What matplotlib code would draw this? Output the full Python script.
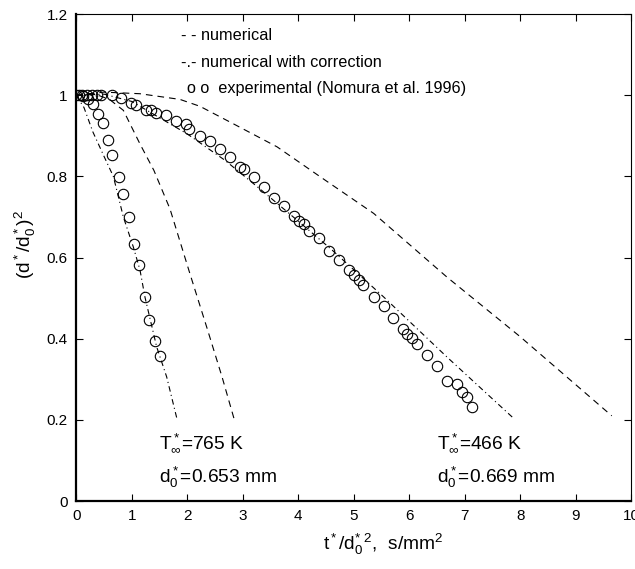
import matplotlib
matplotlib.use("Agg")
import matplotlib.pyplot as plt

plt.rcParams['font.family'] = ['Liberation Sans', 'DejaVu Sans']
plt.rcParams['mathtext.fontset'] = 'custom'
plt.rcParams['mathtext.rm'] = 'Liberation Sans'
plt.rcParams['mathtext.it'] = 'Liberation Sans'
plt.rcParams['mathtext.default'] = 'regular'

# T = 765 K, d0 = 0.653 mm
hot_num_t = [0.0, 0.3, 0.6, 0.85, 1.15, 1.4, 1.69, 2.05, 2.36, 2.63, 2.85]
hot_num_v = [1.0, 1.005, 0.99, 0.963, 0.88, 0.815, 0.72, 0.56, 0.425, 0.305, 0.20]
hot_cor_t = [0.0, 0.14, 0.3, 0.5, 0.67, 0.85, 1.03, 1.15, 1.24, 1.45, 1.63, 1.82]
hot_cor_v = [1.0, 0.97, 0.91, 0.85, 0.80, 0.70, 0.626, 0.569, 0.502, 0.38, 0.306, 0.20]
hot_exp_t = [0.05, 0.13, 0.22, 0.30, 0.40, 0.48, 0.58, 0.65, 0.77, 0.85, 0.95,
             1.05, 1.14, 1.24, 1.32, 1.42, 1.51]
hot_exp_v = [1.0, 0.998, 0.99, 0.978, 0.953, 0.932, 0.891, 0.853, 0.799, 0.758,
             0.699, 0.633, 0.581, 0.503, 0.447, 0.395, 0.357]

# T = 466 K, d0 = 0.669 mm
cold_num_t = [0.0, 0.5, 1.15, 1.87, 2.23, 2.83, 3.62, 4.40, 5.36, 6.68, 8.0, 9.65]
cold_num_v = [1.0, 1.008, 1.004, 0.99, 0.973, 0.930, 0.873, 0.799, 0.709, 0.552, 0.405, 0.21]
cold_cor_t = [0.0, 0.5, 1.0, 1.5, 2.0, 2.68, 3.34, 4.0, 4.6, 5.54, 6.68, 7.88]
cold_cor_v = [1.0, 1.003, 0.985, 0.945, 0.905, 0.84, 0.766, 0.69, 0.62, 0.503, 0.355, 0.204]
cold_exp_t = [0.0, 0.1, 0.2, 0.28, 0.37, 0.45, 0.64, 0.81, 0.99, 1.08, 1.26, 1.35,
              1.44, 1.62, 1.80, 1.98, 2.04, 2.23, 2.41, 2.59, 2.77, 2.95, 3.03,
              3.21, 3.39, 3.57, 3.75, 3.93, 4.02, 4.11, 4.20, 4.38, 4.56, 4.73,
              4.91, 5.00, 5.09, 5.17, 5.36, 5.54, 5.70, 5.88, 5.96, 6.05, 6.14,
              6.32, 6.50, 6.68, 6.86, 6.95, 7.04, 7.13]
cold_exp_v = [1.0, 1.0, 1.0, 1.0, 1.0, 1.002, 1.0, 0.994, 0.981, 0.975, 0.965, 0.963,
              0.956, 0.952, 0.938, 0.929, 0.918, 0.901, 0.887, 0.867, 0.848, 0.823,
              0.818, 0.799, 0.774, 0.748, 0.727, 0.702, 0.690, 0.682, 0.665, 0.649,
              0.616, 0.594, 0.569, 0.557, 0.544, 0.532, 0.502, 0.480, 0.450, 0.425,
              0.411, 0.401, 0.386, 0.360, 0.333, 0.296, 0.288, 0.269, 0.257, 0.232]

x_ticks = [0, 1, 2, 3, 4, 5, 6, 7, 8, 9, 10]
y_ticks = [0, 0.2, 0.4, 0.6, 0.8, 1.0, 1.2]
y_tick_labels = ['0', '0.2', '0.4', '0.6', '0.8', '1', '1.2']

fig = plt.figure(figsize=(6.35, 5.69), dpi=100)
ax = fig.add_axes([0.120, 0.1195, 0.874, 0.8555])

dash = (0, (6, 4.5))
dashdot = (0, (5, 3, 1, 3))
ax.plot(hot_num_t, hot_num_v, color='k', lw=0.8, linestyle=dash)
ax.plot(cold_num_t, cold_num_v, color='k', lw=0.8, linestyle=dash)
ax.plot(hot_cor_t, hot_cor_v, color='k', lw=0.8, linestyle=dashdot)
ax.plot(cold_cor_t, cold_cor_v, color='k', lw=0.8, linestyle=dashdot)
ax.plot(hot_exp_t, hot_exp_v, 'o', mfc='none', mec='k', ms=7.5, mew=0.8)
ax.plot(cold_exp_t, cold_exp_v, 'o', mfc='none', mec='k', ms=7.5, mew=0.8)

ax.set_xlim(0, 10)
ax.set_ylim(0, 1.2)
ax.set_xticks(x_ticks)
ax.set_yticks(y_ticks)
ax.set_yticklabels(y_tick_labels)
ax.tick_params(direction='in', top=True, right=True, length=5, width=0.8,
               labelsize=11, pad=6)
for s in ['left', 'bottom']:
    ax.spines[s].set_linewidth(1.6)
for s in ['top', 'right']:
    ax.spines[s].set_linewidth(0.8)

# legend written as text, MATLAB style
ax.text(1.89, 1.148, '- - numerical', fontsize=11.7, va='center')
ax.text(1.89, 1.082, '-.- numerical with correction', fontsize=11.7, va='center')
ax.text(2.0, 1.016, 'o o  experimental (Nomura et al. 1996)', fontsize=11.7, va='center')

ax.text(1.5, 0.145, r'T$^*_\infty$=765 K', fontsize=13.8, va='center')
ax.text(1.5, 0.059, r'd$^*_0$=0.653 mm', fontsize=13.8, va='center')
ax.text(6.5, 0.145, r'T$^*_\infty$=466 K', fontsize=13.8, va='center')
ax.text(6.5, 0.059, r'd$^*_0$=0.669 mm', fontsize=13.8, va='center')

ax.set_xlabel(r't$^*$/d$_0^{*\ 2}$,  s/mm$^2$', fontsize=13.8, labelpad=6)
ax.xaxis.label.set_x(0.553)
ax.set_ylabel(r'(d$^*$/d$_0^*$)$^2$', fontsize=13.8)
ax.yaxis.set_label_coords(-0.068, 0.526)

plt.savefig('out.png', dpi=100)
